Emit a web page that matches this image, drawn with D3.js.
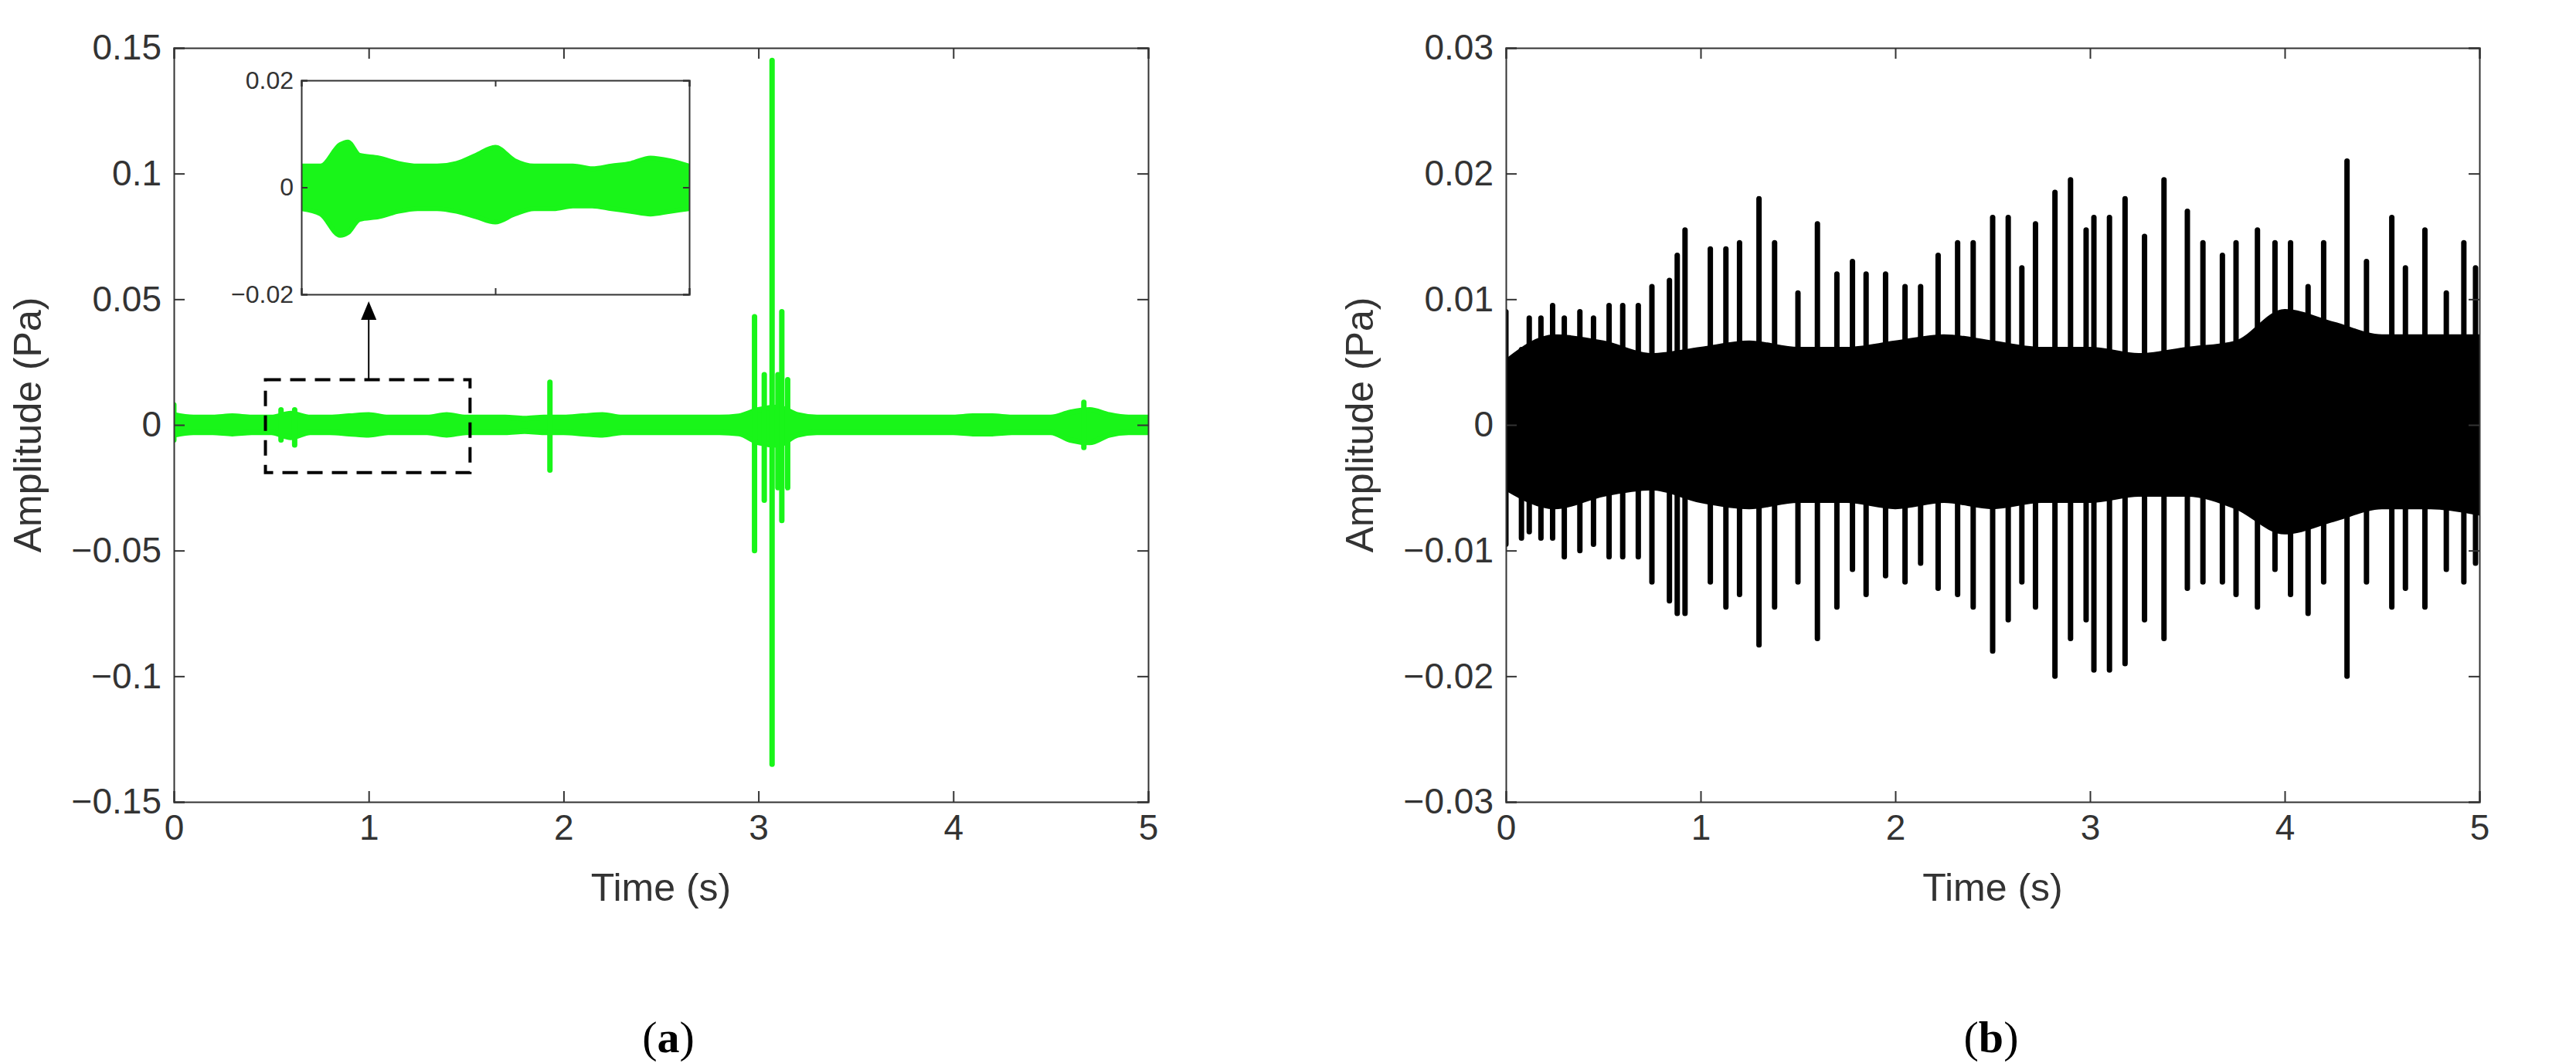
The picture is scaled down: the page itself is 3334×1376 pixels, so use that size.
<!DOCTYPE html>
<html><head><meta charset="utf-8">
<script src="https://cdn.jsdelivr.net/npm/d3@7"></script>
<style>body{margin:0;background:#fff}text{font-family:Arial,"Liberation Sans",sans-serif}</style>
</head><body><svg id="c" width="3334" height="1376"></svg>
<script>
// ---------- DATA ----------
const xTicks = [0,1,2,3,4,5];
const yTicksA = [0.15,0.1,0.05,0,-0.05,-0.1,-0.15];
const yTicksB = [0.03,0.02,0.01,0,-0.01,-0.02,-0.03];
const yTicksInset = [0.02,0,-0.02];
// panel (a) background band envelope
const envAT  = [0,0.1,0.2,0.3,0.4,0.5,0.6,0.7,0.8,0.9,1.0,1.1,1.2,1.3,1.4,1.5,1.6,1.7,1.8,1.9,2.0,2.1,2.2,2.3,2.4,2.5,2.6,2.7,2.8,2.9,3.0,3.1,3.2,3.3,3.4,3.5,3.6,3.7,3.8,3.9,4.0,4.1,4.2,4.3,4.4,4.5,4.6,4.7,4.8,4.9,5.0];
const envAHi = [0.004,0.003,0.003,0.0035,0.003,0.003,0.0045,0.003,0.003,0.0035,0.004,0.003,0.003,0.003,0.004,0.003,0.003,0.003,0.0025,0.003,0.003,0.0035,0.004,0.003,0.003,0.003,0.003,0.003,0.003,0.0035,0.006,0.007,0.004,0.003,0.003,0.003,0.003,0.003,0.003,0.003,0.003,0.0035,0.0035,0.003,0.003,0.003,0.005,0.006,0.004,0.003,0.003];
const envALo = [-0.004,-0.003,-0.003,-0.0035,-0.003,-0.003,-0.005,-0.003,-0.003,-0.0035,-0.004,-0.003,-0.003,-0.003,-0.004,-0.003,-0.003,-0.003,-0.0025,-0.003,-0.003,-0.0035,-0.004,-0.003,-0.003,-0.003,-0.003,-0.003,-0.003,-0.0035,-0.007,-0.008,-0.004,-0.003,-0.003,-0.003,-0.003,-0.003,-0.003,-0.003,-0.003,-0.0035,-0.0035,-0.003,-0.003,-0.003,-0.006,-0.007,-0.004,-0.003,-0.003];
// panel (a) spikes: time, max, min
const spikeAT  = [0.0,0.55,0.62,1.93,2.98,3.03,3.07,3.10,3.12,3.15,4.67];
const spikeAHi = [0.008,0.006,0.006,0.017,0.043,0.02,0.145,0.02,0.045,0.018,0.009];
const spikeALo = [-0.006,-0.006,-0.008,-0.018,-0.050,-0.03,-0.135,-0.025,-0.038,-0.025,-0.009];
// inset detail (0.5 - 1.5 s)
const insT  = [0.5,0.55,0.6,0.62,0.65,0.7,0.75,0.8,0.85,0.9,0.95,1.0,1.05,1.1,1.15,1.2,1.25,1.3,1.35,1.4,1.45,1.5];
const insHi = [0.004,0.004,0.008,0.0085,0.006,0.0055,0.0045,0.004,0.004,0.0045,0.006,0.0075,0.005,0.004,0.004,0.004,0.0035,0.004,0.0045,0.0055,0.005,0.004];
const insLo = [-0.004,-0.005,-0.009,-0.0085,-0.006,-0.0055,-0.0045,-0.004,-0.004,-0.0045,-0.0055,-0.0065,-0.005,-0.004,-0.004,-0.0035,-0.0035,-0.004,-0.0045,-0.005,-0.0045,-0.004];
// panel (b) dense band envelope
const envBT  = [0,0.25,0.5,0.75,1.0,1.25,1.5,1.75,2.0,2.25,2.5,2.75,3.0,3.25,3.5,3.75,4.0,4.25,4.5,4.75,5.0];
const envBHi = [0.005,0.007,0.0065,0.0055,0.006,0.0065,0.006,0.006,0.0065,0.007,0.0065,0.006,0.006,0.0055,0.006,0.0065,0.009,0.008,0.007,0.007,0.007];
const envBLo = [-0.005,-0.0065,-0.0055,-0.005,-0.006,-0.0065,-0.006,-0.006,-0.0065,-0.006,-0.0065,-0.006,-0.006,-0.0055,-0.0055,-0.0065,-0.0085,-0.0075,-0.0065,-0.0065,-0.007];
// panel (b) spikes
const spikeBT  = [0.0,0.08,0.12,0.18,0.24,0.3,0.38,0.45,0.53,0.6,0.68,0.75,0.84,0.88,0.92,1.05,1.13,1.2,1.3,1.38,1.5,1.6,1.7,1.78,1.85,1.95,2.05,2.13,2.22,2.32,2.4,2.5,2.58,2.65,2.72,2.82,2.9,2.98,3.02,3.1,3.18,3.28,3.38,3.5,3.58,3.68,3.75,3.86,3.95,4.03,4.12,4.2,4.32,4.42,4.55,4.62,4.72,4.83,4.92,4.98];
const spikeBHi = [0.009,0.006,0.0085,0.0085,0.0095,0.0085,0.009,0.0085,0.0095,0.0095,0.0095,0.011,0.0115,0.0135,0.0155,0.014,0.014,0.0145,0.018,0.0145,0.0105,0.016,0.012,0.013,0.012,0.012,0.011,0.011,0.0135,0.0145,0.0145,0.0165,0.0165,0.0125,0.016,0.0185,0.0195,0.0155,0.0165,0.0165,0.018,0.015,0.0195,0.017,0.0145,0.0135,0.0145,0.0155,0.0145,0.0145,0.011,0.0145,0.021,0.013,0.0165,0.0125,0.0155,0.0105,0.0145,0.0125];
const spikeBLo = [-0.0095,-0.009,-0.0085,-0.009,-0.009,-0.0105,-0.01,-0.0095,-0.0105,-0.0105,-0.0105,-0.0125,-0.014,-0.015,-0.015,-0.0125,-0.0145,-0.0135,-0.0175,-0.0145,-0.0125,-0.017,-0.0145,-0.0115,-0.0135,-0.012,-0.0125,-0.011,-0.013,-0.0135,-0.0145,-0.018,-0.0155,-0.0125,-0.0145,-0.02,-0.017,-0.0155,-0.0195,-0.0195,-0.019,-0.0155,-0.017,-0.013,-0.0125,-0.0125,-0.0135,-0.0145,-0.0115,-0.0135,-0.015,-0.0125,-0.02,-0.0125,-0.0145,-0.013,-0.0145,-0.0115,-0.0125,-0.011];

// ---------- DRAW ----------
const svg = d3.select("#c");
const GREEN = "#19f519";

function panel(o){
  const g = svg.append("g");
  const x = d3.scaleLinear().domain(o.xd).range([o.x0,o.x1]);
  const y = d3.scaleLinear().domain(o.yd).range([o.y1,o.y0]);
  const clip = "clip"+Math.random().toString(36).slice(2);
  g.append("clipPath").attr("id",clip).append("rect").attr("x",o.x0).attr("y",o.y0).attr("width",o.x1-o.x0).attr("height",o.y1-o.y0);
  const d = g.append("g").attr("clip-path",`url(#${clip})`);
  const band = o.bt.map((t,i)=>({t,hi:o.bh[i],lo:o.bl[i]}));
  d.append("path").datum(band).attr("fill",o.color).attr("stroke",o.color).attr("stroke-width",o.sw)
    .attr("d",d3.area().x(p=>x(p.t)).y0(p=>y(p.lo)).y1(p=>y(p.hi)).curve(d3.curveMonotoneX));
  if(o.st){
    d.selectAll(".sp").data(o.st.map((t,i)=>({t,hi:o.sh[i],lo:o.sl[i]}))).enter().append("line")
      .attr("x1",p=>x(p.t)).attr("x2",p=>x(p.t)).attr("y1",p=>y(p.hi)).attr("y2",p=>y(p.lo))
      .attr("stroke",o.color).attr("stroke-width",o.sw).attr("stroke-linecap","round");
  }
  const fs=o.fs, tl=o.tl;
  const ax = (axis,tr)=>g.append("g").attr("transform",tr).call(axis)
     .call(s=>{s.select(".domain").attr("stroke","#333").attr("stroke-width",2);
       s.selectAll(".tick line").attr("stroke","#333").attr("stroke-width",2);
       s.selectAll("text").attr("font-size",fs).attr("fill","#333");});
  const fmt = v=> v===0?"0":(v<0?"\u2212":"")+d3.format(o.fmt)(Math.abs(v));
  ax(d3.axisBottom(x).tickValues(o.xt).tickSize(-tl).tickPadding(o.pad).tickFormat(o.xlab?d=>d:()=>""),`translate(0,${o.y1})`);
  ax(d3.axisTop(x).tickValues(o.xt).tickSize(-tl).tickFormat(()=>""),`translate(0,${o.y0})`);
  ax(d3.axisLeft(y).tickValues(o.yt).tickSize(-tl).tickPadding(o.pad).tickFormat(fmt),`translate(${o.x0},0)`);
  ax(d3.axisRight(y).tickValues(o.yt).tickSize(-tl).tickFormat(()=>""),`translate(${o.x1},0)`);
  if(o.xtitle){
    g.append("text").attr("x",(o.x0+o.x1)/2).attr("y",o.y1+128).attr("text-anchor","middle").attr("font-size",50).attr("fill","#333").text(o.xtitle);
    g.append("text").attr("transform",`translate(${o.x0-172},${(o.y0+o.y1)/2}) rotate(-90)`).attr("text-anchor","middle").attr("font-size",50).attr("fill","#333").text(o.ytitle);
  }
  return {x,y,g};
}

const A = panel({x0:225,x1:1486,y0:62,y1:1038,xd:[0,5],yd:[-0.15,0.15],xt:xTicks,yt:yTicksA,fmt:".2~f",
  bt:envAT,bh:envAHi,bl:envALo,st:spikeAT,sh:spikeAHi,sl:spikeALo,color:GREEN,sw:7,fs:46,tl:14,pad:16,xlab:true,
  xtitle:"Time (s)",ytitle:"Amplitude (Pa)"});
const B = panel({x0:1949,x1:3209,y0:62,y1:1038,xd:[0,5],yd:[-0.03,0.03],xt:xTicks,yt:yTicksB,fmt:".2~f",
  bt:envBT,bh:envBHi,bl:envBLo,st:spikeBT,sh:spikeBHi,sl:spikeBLo,color:"#000",sw:7,fs:46,tl:14,pad:16,xlab:true,
  xtitle:"Time (s)",ytitle:"Amplitude (Pa)"});
svg.append("rect").attr("x",390).attr("y",104).attr("width",502).attr("height",277).attr("fill","#fff");
panel({x0:390,x1:892,y0:104,y1:381,xd:[0.5,1.5],yd:[-0.02,0.02],xt:[0.5,1.0,1.5],yt:yTicksInset,fmt:".2~f",
  bt:insT,bh:insHi,bl:insLo,color:GREEN,sw:6,fs:32,tl:8,pad:10,xlab:false});
const bx0=A.x(0.47), bx1=A.x(1.52), by0=A.y(0.018), by1=A.y(-0.019);
svg.append("rect").attr("x",bx0).attr("y",by0).attr("width",bx1-bx0).attr("height",by1-by0)
  .attr("fill","none").attr("stroke","#000").attr("stroke-width",4).attr("stroke-dasharray","20,12");
const ax_ = A.x(1.0);
svg.append("line").attr("x1",ax_).attr("x2",ax_).attr("y1",by0).attr("y2",405).attr("stroke","#000").attr("stroke-width",2);
svg.append("path").attr("d",`M${ax_-10},${414} L${ax_+10},${414} L${ax_},${390} Z`).attr("fill","#000");
const lab=(x,t)=>{const tx=svg.append("text").attr("x",x).attr("y",1362).attr("text-anchor","middle")
    .style("font-size","58px").style("font-family","'Liberation Serif','DejaVu Serif',serif");
  tx.append("tspan").text("(");tx.append("tspan").style("font-weight","bold").text(t);tx.append("tspan").text(")");};
lab(865,"a"); lab(2577,"b");
</script></body></html>
